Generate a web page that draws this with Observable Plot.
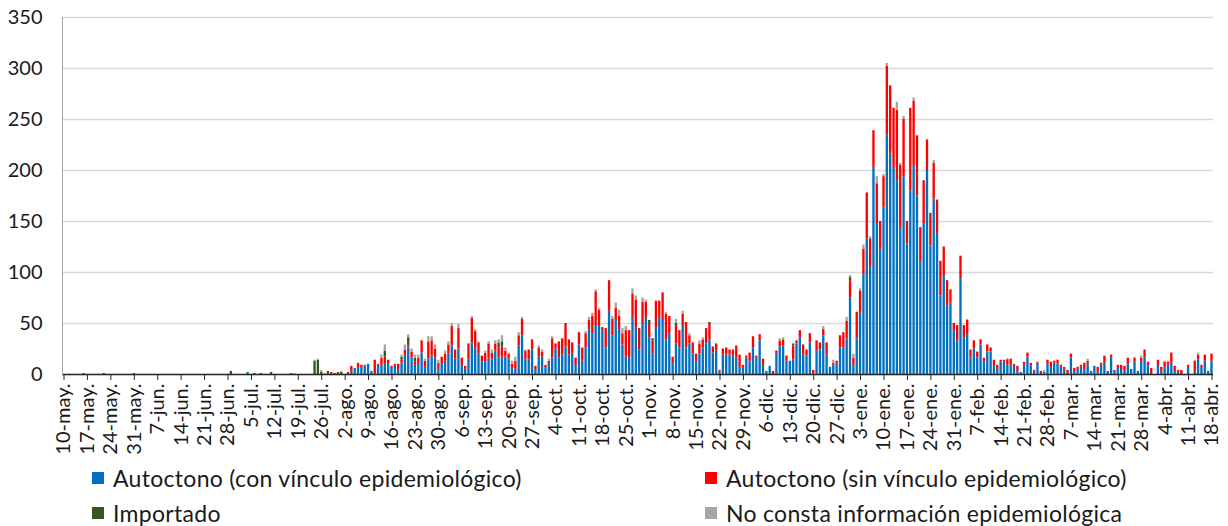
<!DOCTYPE html>
<html>
<head>
<meta charset="utf-8">
<script src="https://cdn.jsdelivr.net/npm/d3@7"></script>
<script src="https://cdn.jsdelivr.net/npm/@observablehq/plot@0.6"></script>
<style>
  body { margin: 0; background: #fff; }
  #wrap { position: relative; width: 1228px; height: 526px; font-family: Lato, "Open Sans", sans-serif; color: #1a1a1a; }
  #wrap svg { display: block; }
  .lg { position: absolute; display: flex; align-items: center; font-size: 23px; letter-spacing: 0.3px; white-space: nowrap; }
  .lg span.sw { display: inline-block; width: 12px; height: 12px; margin-right: 9px; }
</style>
</head>
<body>
<div id="wrap"></div>
<script>
// Series (legend order = stacking order, bottom to top)
const seriesNames = [
  "Autoctono (con vínculo epidemiológico)",
  "Autoctono (sin vínculo epidemiológico)",
  "Importado",
  "No consta información epidemiológica"
];
const seriesColors = ["#0070C0", "#FF0000", "#375623", "#A5A5A5"];

// Daily cases from 10-may-2020 to 18-abr-2021 (one row per week)
const autoctonoCon = [
  0,0,0,0,0,0,0,  0,0,0,0,0,0,0,  0,0,0,0,0,0,0,  0,0,0,0,0,0,0,
  0,0,0,0,0,0,0,  0,0,0,0,0,0,0,  0,0,0,0,0,0,0,  0,0,0,0,0,0,2,
  0,0,0,0,0,0,0,  0,0,0,0,0,0,0,  0,0,0,0,0,0,0,  0,0,1,1,0,0,0,
  0,0,3,6,6,7,8,  10,3,1,9,9,10,10,  6,8,4,11,19,26,16,  9,10,21,7,15,18,16,
  5,10,13,20,28,15,25,  9,5,14,31,25,20,12,  12,15,15,23,16,17,17,  15,6,5,28,38,14,14,
  24,4,17,17,6,10,16,  25,16,19,27,19,20,8,  29,13,26,44,40,48,47,  43,26,62,38,54,44,29,
  17,16,56,46,24,50,55,  36,20,46,56,53,34,40,  10,30,26,48,26,30,20,  13,20,26,30,34,21,23,
  3,19,19,19,18,16,7,  7,16,13,26,16,33,9,  3,8,0,20,27,28,13,  13,14,30,36,19,18,31,
  1,23,24,38,19,7,9,  10,26,26,35,75,9,35,  60,98,133,105,203,148,122,  164,235,216,203,190,143,194,
  128,180,205,175,110,148,200,  126,172,138,77,96,67,70,  43,33,94,36,39,16,25,  16,29,12,22,22,8,4,
  12,12,9,9,9,3,2,  9,17,8,3,11,0,2,  10,6,11,10,7,5,0,  16,3,4,7,4,10,3,
  8,3,9,11,2,16,3,  6,4,3,10,4,12,3,  12,16,8,0,0,8,3,  7,9,11,3,3,0,0,
  7,0,3,14,7,13,3,  13
];
const autoctonoSin = [
  0,0,0,0,0,0,1,  0,0,0,0,0,1,0,  0,0,0,0,0,0,0,  1,0,0,0,0,0,0,
  0,0,0,0,0,0,0,  0,0,0,0,0,0,0,  0,0,0,0,0,0,0,  0,0,0,0,0,0,0,
  0,1,0,1,0,0,0,  0,0,0,0,0,1,0,  0,0,0,0,0,0,0,  0,0,0,1,1,0,0,
  0,2,5,0,5,2,1,  0,0,13,1,7,7,4,  2,2,6,3,5,2,6,  3,6,12,6,17,15,9,
  6,7,7,9,19,9,20,  7,3,16,24,17,11,6,  9,15,6,7,10,10,6,  5,4,8,10,16,9,10,
  10,4,9,5,3,3,19,  5,16,16,23,15,11,8,  12,13,14,9,17,33,16,  3,19,30,16,11,13,11,
  26,27,23,27,21,21,16,  13,13,25,16,27,25,17,  7,18,17,11,25,8,11,  7,10,8,15,15,6,7,
  1,6,7,5,6,12,12,  2,2,8,11,2,6,6,  0,0,3,3,6,6,5,  0,14,3,7,10,6,9,
  3,10,7,6,12,0,2,  3,12,15,17,17,7,26,  22,25,45,28,36,39,28,  30,67,67,58,69,62,56,
  22,81,63,59,34,42,30,  30,35,33,34,29,25,13,  7,15,22,12,14,8,8,  6,5,4,7,4,6,5,
  2,2,5,6,1,5,0,  3,4,3,1,1,3,0,  4,6,2,4,2,2,4,  4,3,3,2,7,3,0,
  0,4,2,7,1,3,1,  3,5,5,6,1,4,0,  4,8,4,6,0,6,4,  5,3,10,5,1,4,0,
  2,0,10,5,2,6,0,  7
];
const importado = [
  0,0,0,0,0,0,0,  0,0,0,0,0,0,0,  0,0,0,0,0,0,0,  0,0,0,0,0,0,0,
  0,0,0,0,0,0,0,  0,0,0,0,0,0,0,  0,0,0,0,0,0,0,  0,3,0,0,0,0,0,
  0,0,0,0,0,0,2,  0,0,0,0,0,0,0,  0,0,0,0,0,13,14,  2,0,2,0,0,2,2,
  0,0,0,0,0,0,0,  0,0,0,0,0,6,0,  0,0,0,3,0,8,0,  4,0,0,0,0,0,0,
  0,0,0,0,0,0,0,  0,0,0,0,0,0,0,  0,0,0,0,5,5,0,  0,0,0,0,0,0,0,
  0,0,0,0,0,0,0,  0,0,0,0,0,0,0,  0,0,0,0,0,0,0,  0,0,0,0,0,0,0,
  0,0,0,0,0,0,0,  4,2,1,0,0,0,0,  0,2,0,0,0,0,0,  0,0,0,0,2,0,0,
  0,0,0,0,0,0,0,  0,0,0,0,0,0,0,  0,0,0,0,0,0,0,  0,2,0,0,0,0,0,
  0,0,0,0,0,0,0,  0,0,0,0,3,0,0,  0,0,0,0,0,0,0,  0,0,0,0,0,0,0,
  0,0,0,0,0,0,0,  2,0,0,0,0,0,0,  0,0,0,0,0,0,0,  0,0,0,0,0,0,0,
  0,0,1,0,0,0,0,  0,0,0,0,0,0,0,  0,0,0,0,0,0,0,  0,0,0,0,0,0,0,
  0,0,0,0,0,0,0,  0,0,0,0,0,0,0,  0,0,0,0,0,0,0,  0,0,0,0,0,0,0,
  0,0,0,0,0,0,0,  0
];
const noConsta = [
  0,0,0,0,0,0,0,  0,0,0,0,0,0,0,  0,0,0,0,0,0,0,  0,0,0,0,0,0,0,
  0,0,0,0,0,0,0,  0,0,0,0,0,0,0,  0,0,0,0,0,0,0,  0,0,0,0,0,0,0,
  0,0,0,0,0,0,0,  0,0,0,0,0,0,1,  0,0,0,0,0,1,1,  2,1,0,0,0,0,1,
  0,0,0,0,0,0,0,  0,0,0,0,3,6,0,  0,0,0,2,5,3,3,  3,3,0,2,5,4,4,
  3,0,3,3,3,0,4,  0,0,0,2,2,1,0,  2,2,3,3,3,6,3,  1,3,4,3,2,1,0,
  0,0,2,2,0,2,2,  0,0,0,0,0,0,0,  0,0,2,3,3,2,2,  0,0,0,3,5,6,5,
  4,0,5,4,0,4,2,  0,0,0,0,0,2,0,  0,4,0,3,0,2,0,  0,3,2,0,0,0,0,
  0,0,0,0,0,0,0,  0,0,0,0,0,0,0,  0,0,0,0,2,2,0,  0,0,0,0,0,0,0,
  0,0,0,3,0,0,3,  0,0,0,4,2,4,0,  2,4,0,2,0,7,0,  2,3,0,0,8,2,3,
  0,0,3,0,0,0,0,  0,3,0,0,0,0,0,  0,0,0,0,1,0,0,  0,0,0,0,0,0,0,
  0,0,0,0,0,0,0,  0,0,0,0,0,0,2,  0,0,0,0,0,0,0,  0,0,0,0,0,2,0,
  0,0,0,0,0,0,0,  0,0,0,0,0,1,0,  2,0,0,0,0,0,0,  1,1,0,0,0,0,0,
  0,0,1,2,0,0,0,  0
];

const monthAbbr = ["ene.", "feb.", "mar.", "abr.", "may.", "jun.", "jul.", "ago.", "sep.", "oct.", "nov.", "dic."];
const yTicks = [0, 50, 100, 150, 200, 250, 300, 350];

const seriesValues = [autoctonoCon, autoctonoSin, importado, noConsta];
const N = autoctonoCon.length;
const start = Date.UTC(2020, 4, 10);
const dayLabel = i => {
  const d = new Date(start + i * 86400000);
  return d.getUTCDate() + "-" + monthAbbr[d.getUTCMonth()];
};
const idx = d3.range(N);
const tickIdx = idx.filter(i => i % 7 === 0);

const rows = [];
for (let i = 0; i < N; i++) {
  seriesNames.forEach((s, k) => rows.push({i, serie: s, value: seriesValues[k][i]}));
}

const chart = Plot.plot({
  width: 1228,
  height: 458,
  marginTop: 17,
  marginBottom: 84,
  marginLeft: 62,
  marginRight: 15,
  style: {fontFamily: "Lato, 'Open Sans', sans-serif", color: "#1a1a1a", background: "#fff"},
  x: {type: "band", domain: idx, paddingInner: 0.3, paddingOuter: 0.1, round: false},
  y: {domain: [0, 350]},
  color: {domain: seriesNames, range: seriesColors},
  marks: [
    Plot.gridY(yTicks, {stroke: "#d9d9d9", strokeOpacity: 1, strokeWidth: 1.5}),
    Plot.barY(rows, {x: "i", y: "value", fill: "serie", order: seriesNames}),
    Plot.ruleY([0], {stroke: "#262626", strokeWidth: 1.5}),
    Plot.axisY({ticks: yTicks, tickSize: 0, tickPadding: 20, fontSize: 20, label: null}),
    Plot.axisX({ticks: tickIdx, tickFormat: dayLabel, tickRotate: -90, fontSize: 20,
                tickSize: 6, tickPadding: 3, label: null, stroke: "#262626"}),
    Plot.frame({anchor: "left", stroke: "#a6a6a6"})
  ]
});
const wrap = document.getElementById("wrap");
wrap.appendChild(chart);

const legendPos = [
  {left: 92, top: 464},
  {left: 705, top: 464},
  {left: 92, top: 499},
  {left: 705, top: 499}
];
seriesNames.forEach((s, k) => {
  const el = document.createElement("div");
  el.className = "lg";
  el.style.left = legendPos[k].left + "px";
  el.style.top = legendPos[k].top + "px";
  el.innerHTML = `<span class="sw" style="background:${seriesColors[k]}"></span><span>${s}</span>`;
  wrap.appendChild(el);
});
</script>
</body>
</html>
